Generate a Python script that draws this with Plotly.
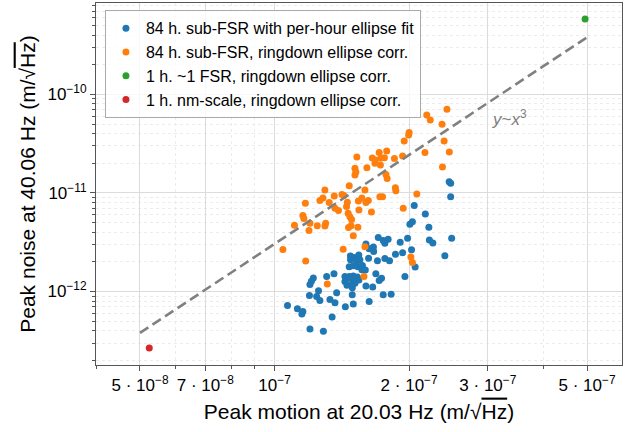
import plotly.graph_objects as go

# ---- data (x in units of 1e-7 m/sqrt(Hz), y in units of 1e-12 m/sqrt(Hz)) ----
blue_x = [2.458, 2.477, 2.477, 2.053, 2.174, 2.008, 2.034, 2.214, 1.984, 2.220,
          2.26, 2.49, 1.910, 1.706, 1.750, 1.795, 1.765, 1.601, 1.664, 1.628,
          1.666, 1.864, 1.934, 2.025, 2.404, 1.478, 1.509, 1.543, 1.479, 1.526,
          1.552, 1.623, 1.699, 1.765, 1.808, 1.469, 1.502, 1.536, 1.572, 1.568,
          1.596, 2.063, 1.685, 1.957, 1.358, 1.308, 1.437, 1.461, 1.437, 1.452,
          1.500, 1.500, 1.513, 1.532, 1.544, 1.471, 1.474, 1.493, 1.221, 1.209,
          1.200, 1.658, 1.601, 1.735, 1.714, 1.254, 1.242, 1.263, 1.197, 1.377,
          1.492, 1.750, 1.823, 1.330, 1.365, 1.500, 1.440, 1.628, 1.069, 1.125,
          1.157, 1.151, 1.345, 1.200, 1.286]
blue_y = [13.0, 12.55, 9.17, 7.44, 6.12, 4.80, 5.09, 4.49, 3.47, 3.34,
          3.11, 3.47, 3.17, 3.54, 3.30, 3.40, 3.09, 3.03, 2.83, 2.72,
          2.55, 2.39, 2.47, 2.65, 2.30, 2.29, 2.21, 2.35, 2.10, 2.02,
          2.10, 2.18, 2.05, 2.16, 2.05, 1.78, 1.82, 1.78, 1.84, 1.66,
          1.65, 1.77, 1.51, 1.42, 1.51, 1.42, 1.42, 1.367, 1.26, 1.16,
          1.44, 1.31, 1.21, 1.40, 1.31, 1.42, 1.17, 1.09, 1.37, 1.27,
          1.18, 1.11, 1.14, 1.36, 1.29, 1.02, 0.89, 0.81, 0.91, 0.97,
          0.926, 0.926, 0.94, 0.83, 0.77, 0.746, 0.70, 0.79, 0.72, 0.667,
          0.627, 0.59, 0.55, 0.417, 0.394]

orange_x = [2.19, 2.43, 2.23, 2.37, 2.00, 1.995, 1.950, 2.395, 2.46, 2.17,
            1.782, 1.714, 1.528, 1.654, 1.681, 1.729, 1.761, 1.854, 1.934, 1.677,
            1.725, 1.609, 1.513, 1.520, 1.513, 2.375, 1.775, 1.786, 1.469, 1.296,
            1.593, 1.863, 1.868, 2.081, 1.360, 1.415, 1.429, 1.263, 1.283, 1.172,
            1.325, 1.540, 1.568, 1.601, 1.621, 1.720, 1.744, 1.455, 1.449, 1.365,
            1.390, 1.544, 1.647, 1.940, 1.157, 1.163, 1.461, 1.474, 1.487, 1.200,
            1.194, 1.246, 1.301, 1.296, 1.108, 1.464, 1.483, 1.536, 1.500, 1.044,
            1.174, 1.424, 1.593, 2.018, 2.034, 1.585, 1.312]
orange_y = [61.7, 70.9, 54.9, 49.7, 41.2, 38.7, 33.6, 33.6, 26.05, 25.75,
            26.67, 25.75, 23.2, 22.6, 21.6, 22.6, 22.8, 22.4, 23.7, 19.97,
            19.2, 18.04, 17.8, 16.3, 15.2, 18.3, 15.4, 14.0, 11.85, 10.72,
            10.72, 11.29, 10.55, 9.77, 9.32, 9.65, 9.43, 8.39, 8.90, 7.86,
            8.01, 8.29, 8.90, 8.01, 8.39, 9.17, 9.17, 8.05, 7.30, 7.00,
            6.65, 6.73, 6.42, 7.00, 5.91, 5.52, 6.22, 5.75, 5.39, 4.93,
            4.15, 4.65, 4.93, 4.63, 4.69, 4.47, 4.65, 4.49, 3.69, 2.67,
            2.04, 2.69, 2.85, 2.24, 1.97, 1.42, 1.19]

green_x = [4.95]
green_y = [583.0]
red_x = [0.5245]
red_y = [0.267]

fit_x = [0.5, 5.0]
fit_y = [0.38, 380.0]

X_UNIT = 1e-7
Y_UNIT = 1e-12

labels = ["84 h. sub-FSR with per-hour ellipse fit",
          "84 h. sub-FSR, ringdown ellipse corr.",
          "1 h. ~1 FSR, ringdown ellipse corr.",
          "1 h. nm-scale, ringdown ellipse corr."]
colors = ["#1f77b4", "#ff7f0e", "#2ca02c", "#d62728"]

x_tickvals = [5e-8, 7e-8, 1e-7, 2e-7, 3e-7, 5e-7]
x_ticktext = ["5 · 10<sup>−8</sup>", "7 · 10<sup>−8</sup>", "10<sup>−7</sup>",
              "2 · 10<sup>−7</sup>", "3 · 10<sup>−7</sup>", "5 · 10<sup>−7</sup>"]
x_minor = [4e-8, 6e-8, 8e-8, 9e-8, 4e-7, 6e-7]
y_tickvals = [1e-12, 1e-11, 1e-10]
y_ticktext = ["10<sup>−12</sup>", "10<sup>−11</sup>", "10<sup>−10</sup>"]
y_minor = [m * 10.0 ** e for e in (-13, -12, -11, -10) for m in range(2, 10)]

FONT = "Liberation Sans, Arial, sans-serif"

fig = go.Figure()
series = [(blue_x, blue_y), (orange_x, orange_y), (green_x, green_y), (red_x, red_y)]
for (sx, sy), lab, col in zip(series, labels, colors):
    fig.add_trace(go.Scatter(
        x=[v * X_UNIT for v in sx], y=[v * Y_UNIT for v in sy],
        mode="markers", name=lab,
        marker=dict(color=col, size=7, line=dict(width=0)),
    ))

fig.add_trace(go.Scatter(
    x=[v * X_UNIT for v in fit_x], y=[v * Y_UNIT for v in fit_y],
    mode="lines", showlegend=False,
    line=dict(color="#808080", width=2.6, dash="10px,5px"),
))

fig.add_annotation(
    x=-6.474, y=-10.24, xref="x", yref="y", showarrow=False,
    text="<i>y</i>~<i>x</i><sup>3</sup>",
    font=dict(family=FONT, size=17, color="#808080"),
)

axis_common = dict(
    type="log", showline=True, linecolor="#555", linewidth=1, mirror=True,
    ticks="outside", ticklen=5, tickcolor="#555", tickwidth=1,
    showgrid=True, gridcolor="#dcdcdc", gridwidth=1,
    tickfont=dict(family=FONT, size=17, color="#000"),
    zeroline=False, automargin=False,
)

fig.update_xaxes(
    **axis_common,
    range=[-7.3994, -6.2228],
    tickmode="array", tickvals=x_tickvals, ticktext=x_ticktext,
    minor=dict(tickmode="array", tickvals=x_minor, ticks="outside", ticklen=3,
               tickcolor="#555", showgrid=True, gridcolor="#ececec",
               griddash="dot", gridwidth=1),
    title=dict(text="Peak motion at 20.03 Hz (m/√<span style='text-decoration:overline'>Hz</span>)",
               font=dict(family=FONT, size=21, color="#000"), standoff=9),
)
fig.update_yaxes(
    **axis_common,
    range=[-12.746, -9.072],
    tickmode="array", tickvals=y_tickvals, ticktext=y_ticktext,
    minor=dict(tickmode="array", tickvals=y_minor, ticks="outside", ticklen=3,
               tickcolor="#555", showgrid=True, gridcolor="#ececec",
               griddash="dot", gridwidth=1),
    title=dict(text="Peak noise at 40.06 Hz (m/√<span style='text-decoration:overline'>Hz</span>)",
               font=dict(family=FONT, size=21, color="#000"), standoff=6),
)

fig.update_layout(
    width=639, height=432,
    margin=dict(l=96, r=17, t=3, b=67, autoexpand=False),
    plot_bgcolor="white", paper_bgcolor="white",
    font=dict(family=FONT, size=16, color="#000"),
    legend=dict(
        x=0.017, y=0.98, xanchor="left", yanchor="top",
        bgcolor="rgba(255,255,255,0.8)", bordercolor="#aaaaaa", borderwidth=1,
        font=dict(family=FONT, size=16, color="#000"),
        itemwidth=30,
    ),
)

fig.write_html("out.html", config={"displayModeBar": False},
               post_script="document.body.style.margin='0';")
